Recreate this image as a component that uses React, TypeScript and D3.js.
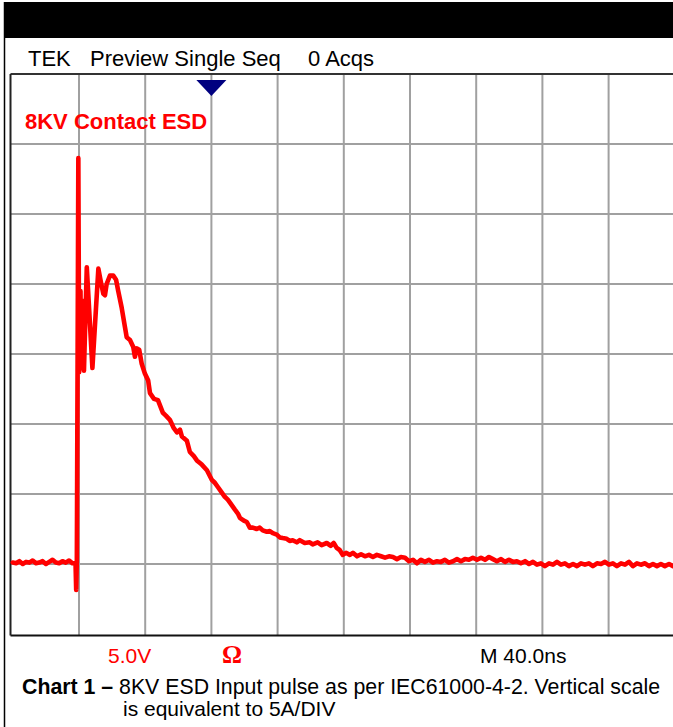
import React from "react";
import * as d3 from "d3";

// Time axis: 40 ns/div, 10 divisions. Vertical: 5 A/div, 8 divisions.
const timeGridNs = [40, 80, 120, 160, 200, 240, 280, 320, 360];
const currentGridA = [0, 5, 10, 15, 20, 25, 30];
const triggerNs = 120;

const headerLabels = ["TEK", "Preview Single Seq", "0 Acqs"];
const titleLabel = "8KV Contact ESD";
const scaleLabel = "5.0V";
const omegaLabel = "Ω";
const timebaseLabel = "M 40.0ns";
const captionBold = "Chart 1 –";
const captionLine1 = "8KV ESD Input pulse as per IEC61000-4-2. Vertical scale";
const captionLine2 = "is equivalent to 5A/DIV";

// Waveform samples
const timeNs = [
  0, 2, 4, 6, 8, 10, 12, 14, 16, 18, 20, 22, 24, 26, 28, 30, 32, 34, 36,
  37.9, 38.3, 38.7, 39.6, 40.1, 40.9, 41.4, 42.0, 43.0, 44.7, 48.1, 51.7, 53.3, 54.7, 55.7, 56.7,
  58.7, 60.7, 62.4, 63.7, 65.8, 67.8, 68.8, 70.8, 72.8, 73.8, 74.8, 76.4, 77.9, 79.8, 81.8,
  82.9, 85.3, 87.7, 90.7, 92.5, 94.9, 97.3, 99.2, 101.0, 102.2, 105.2, 107.0, 109.4, 111.2,
  114.2, 117.3, 120.3, 122.1, 123.9, 126.3, 128.1, 129.9, 131.1, 134.1, 136.0, 137.2, 139.6,
  141.4, 143.2, 145.0, 147.4, 149.2, 151.0, 153.5, 155.3, 157.1, 159.5, 161.3, 163.1, 165.5,
  167.3, 169.1, 171.6, 173.4, 176.4, 179.4, 181.2, 184.2, 186.6, 189.7, 192.1, 193.9, 195.7,
  197.5, 199.4,
  201.3, 203.7, 205.5, 208.0, 210.4, 212.8, 215.2, 217.6, 220.0, 222.5, 224.9, 227.3, 229.7,
  232.1, 234.5, 237.0, 239.4, 241.8, 244.2, 246.6, 249.0, 251.5, 253.9, 256.3, 258.7, 261.1,
  263.5, 266.0, 268.4, 270.8, 273.2, 275.6, 278.0, 280.5, 282.9, 285.3, 287.7, 290.1, 292.5,
  295.0, 297.4, 299.8, 302.2, 304.6, 307.0, 309.5, 311.9, 314.3, 316.7, 319.1, 321.5, 324.0,
  326.4, 328.8, 331.2, 333.6, 336.0, 338.5, 340.9, 343.3, 345.7, 348.1, 350.5, 353.0, 355.4,
  357.8, 360.2, 362.6, 365.0, 367.5, 369.9, 372.3, 374.7, 377.1, 379.5, 382.0, 384.4, 386.8,
  389.2, 391.6, 394.0, 396.5, 398.9,
];
const currentA = [
  0.1, 0.05, 0.2, 0.0, 0.15, 0.1, 0.25, 0.05, 0.1, 0.2, 0.0, 0.15, 0.3, 0.1, 0.05, 0.2, 0.1, 0.25, 0.05,
  0.07, -1.85, 0.3, 29.0, 13.7, 19.5, 14.0, 18.8, 13.8, 21.2, 14.0, 21.1, 20.1, 19.3, 19.2, 20.0,
  20.6, 20.6, 20.3, 19.5, 18.3, 16.9, 16.2, 16.0, 15.5, 14.8, 15.4, 15.3, 14.3, 13.6, 13.1,
  12.2, 11.8, 11.7, 10.8, 10.6, 10.3, 9.7, 9.4, 9.6, 9.1, 8.8, 8.0, 7.7, 7.4,
  7.1, 6.7, 6.0, 5.8, 5.5, 5.1, 4.8, 4.6, 4.4, 3.9, 3.6, 3.3, 3.1,
  3.0, 2.6, 2.6, 2.5, 2.6, 2.4, 2.3, 2.35, 2.2, 2.1, 1.9, 1.85, 1.8,
  1.65, 1.7, 1.55, 1.7, 1.5, 1.55, 1.4, 1.55, 1.35, 1.5, 1.3, 1.5, 1.15,
  1.0, 0.65,
  0.8, 0.65, 0.8, 0.55, 0.7, 0.55, 0.65, 0.5, 0.65, 0.55, 0.45, 0.55, 0.5,
  0.35, 0.5, 0.45, 0.2, 0.3, 0.05, 0.3, 0.15, 0.3, 0.1, 0.2, 0.15, 0.3,
  0.1, 0.2, 0.35, 0.2, 0.35, 0.3, 0.45, 0.3, 0.45, 0.3, 0.5, 0.35, 0.2,
  0.35, 0.15, 0.3, 0.15, 0.2, 0.05, 0.2, 0.0, 0.15, -0.05, 0.05, -0.15, 0.05,
  -0.05, 0.15, -0.05, 0.05, -0.15, 0.0, -0.15, 0.05, -0.05, 0.05, -0.15, 0.05, 0.0,
  0.15, -0.05, 0.05, -0.15, 0.05, -0.05, 0.15, -0.15, 0.05, -0.05, 0.05, -0.15, 0.0,
  -0.15, 0.0, -0.15, 0.0, -0.15,
];

const W = 673;
const H = 727;
const SANS = "Arial, 'Liberation Sans', Helvetica, sans-serif";

export default function App() {
  const x = d3.scaleLinear().domain([0, 400]).range([12.8, 674.8]);
  const y = d3.scaleLinear().domain([-5, 35]).range([634, 74]);

  const points: [number, number][] = timeNs.map((t, i) => [t, currentA[i]]);
  const line = d3
    .line<[number, number]>()
    .x((d) => x(d[0]))
    .y((d) => y(d[1]));

  const frameLeft = 10.5;
  const frameTop = y(35);
  const frameBottom = y(-5) + 1.5;
  const tx = x(triggerNs);

  return (
    <div style={{ position: "absolute", left: 0, top: 0 }}>
      <svg width={W} height={H} style={{ display: "block", background: "#fff" }}>
        <rect x={0} y={0} width={W} height={H} fill="#fff" />
        {/* top black bar */}
        <rect x={4} y={2} width={W - 4} height={36} fill="#000" />
        {/* outer left border */}
        <line x1={4.5} y1={2} x2={4.5} y2={H} stroke="#000" strokeWidth={1.5} />

        {/* header */}
        <g fontFamily={SANS} fontSize={22} fill="#000">
          <text x={28} y={66}>{headerLabels[0]}</text>
          <text x={90} y={66}>{headerLabels[1]}</text>
          <text x={308} y={66}>{headerLabels[2]}</text>
        </g>

        {/* grid */}
        <g stroke="#a0a0a0" strokeWidth={2}>
          {timeGridNs.map((t) => (
            <line key={"v" + t} x1={x(t)} x2={x(t)} y1={frameTop} y2={frameBottom} />
          ))}
          {currentGridA.map((a) => (
            <line key={"h" + a} x1={frameLeft} x2={W} y1={y(a)} y2={y(a)} />
          ))}
        </g>

        {/* frame */}
        <line x1={frameLeft} x2={W} y1={frameTop} y2={frameTop} stroke="#333" strokeWidth={2} />
        <line x1={frameLeft} x2={W} y1={frameBottom} y2={frameBottom} stroke="#111" strokeWidth={2} />
        <line x1={frameLeft} x2={frameLeft} y1={frameTop} y2={frameBottom} stroke="#222" strokeWidth={2} />

        {/* trigger marker */}
        <path
          d={`M${tx - 15},${frameTop + 6} L${tx + 15},${frameTop + 6} L${tx},${frameTop + 22} Z`}
          fill="#000080"
        />

        {/* title */}
        <text x={25} y={129} fontFamily={SANS} fontSize={22} fontWeight="bold" fill="#ff0000">
          {titleLabel}
        </text>

        {/* waveform */}
        <path
          d={line(points) || ""}
          fill="none"
          stroke="#ff0000"
          strokeWidth={4.6}
          strokeLinejoin="round"
          strokeLinecap="round"
        />

        {/* bottom labels */}
        <text x={108} y={663} fontFamily={SANS} fontSize={21} fill="#ff0000">
          {scaleLabel}
        </text>
        <text x={222} y={663} fontFamily="'Liberation Serif', 'Times New Roman', serif" fontSize={25} fontWeight="bold" fill="#ff0000">
          {omegaLabel}
        </text>
        <text x={480} y={663} fontFamily={SANS} fontSize={21} fill="#000">
          {timebaseLabel}
        </text>

        {/* caption */}
        <text x={22} y={694} fontFamily={SANS} fontSize={21.3} fill="#000">
          <tspan fontWeight="bold">{captionBold}</tspan>
          <tspan> {captionLine1}</tspan>
        </text>
        <text x={123} y={716} fontFamily={SANS} fontSize={21} fill="#000">
          {captionLine2}
        </text>
      </svg>
    </div>
  );
}
